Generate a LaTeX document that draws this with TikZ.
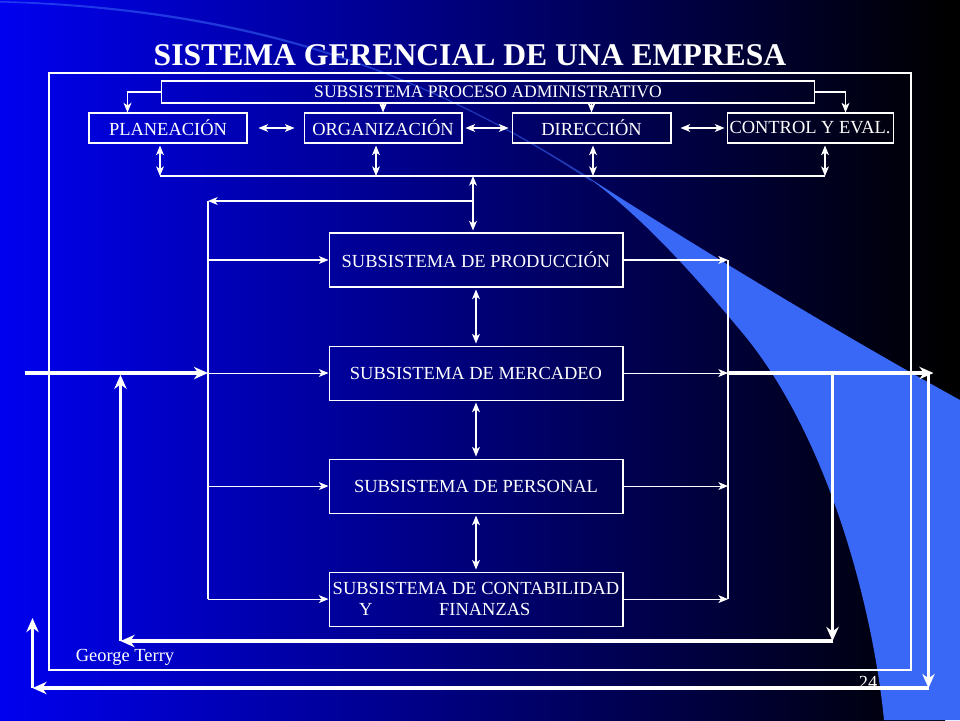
\documentclass[tikz,border=0pt]{standalone}
\usepackage{fontspec}
\setmainfont{Liberation Serif}
\usetikzlibrary{arrows.meta,positioning,calc}
\definecolor{SlideBlue}{RGB}{0,0,240}
\definecolor{SlideMid}{RGB}{0,0,178}
\definecolor{SlideSwoosh}{RGB}{58,104,246}

\begin{document}
\begin{tikzpicture}[x=0.02cm,y=-0.02cm,
  ln/.style={draw=white,line width=0.6pt},
  arr/.style={ln,-{Stealth[length=5.5pt,width=4.5pt,inset=1.5pt]}},
  darr/.style={ln,{Stealth[length=5.5pt,width=4.5pt,inset=1.5pt]}-{Stealth[length=5.5pt,width=4.5pt,inset=1.5pt]}},
  big/.style={draw=white,line width=2pt,-{Stealth[length=8pt,width=7pt,inset=2.5pt]}},
  box/.style={ln,text=white,inner sep=0pt,font=\fontsize{10.5}{12}\selectfont},
  topbox/.style={box,minimum height=0.6cm},
  subbox/.style={box,minimum width=5.88cm,minimum height=1.08cm},
  lbl/.style={text=white,inner sep=0pt,font=\fontsize{10.5}{12}\selectfont},
]
% slide background
\shade[left color=SlideBlue,middle color=SlideMid,right color=black] (0,0) rectangle (945,720);
\fill[black] (945,0) rectangle (960,720);
\fill[SlideSwoosh,opacity=0.55] (0,1) .. controls (250,7) and (420,70) .. (590,178)
  -- (592,182) .. controls (430,74) and (250,10) .. (0,2.5) -- cycle;
\fill[SlideSwoosh] (586,176) .. controls (720,262) and (860,345) .. (960,400) -- (960,720) -- (884,720)
  .. controls (872,600) and (825,430) .. (740,330)
  .. controls (690,270) and (640,215) .. (586,176) -- cycle;

\node[text=white,font=\fontsize{18}{21}\selectfont\bfseries] (title) at (470,55) {SISTEMA GERENCIAL DE UNA EMPRESA};
\draw[ln] (49,73) rectangle (911,670);

% proceso administrativo
\node[box,font=\fontsize{10}{12}\selectfont,minimum width=13.08cm,minimum height=0.44cm] (proc) at (488,92) {SUBSISTEMA PROCESO ADMINISTRATIVO};
\node[topbox,minimum width=3.16cm] (plan) at (168,128) {PLANEACIÓN};
\node[topbox,minimum width=3.16cm,right=1.12cm of plan] (org) {ORGANIZACIÓN};
\node[topbox,minimum width=3.18cm,right=0.98cm of org] (dir) {DIRECCIÓN};
\node[topbox,minimum width=3.32cm,right=1.1cm of dir] (ctrl) {CONTROL Y EVAL.};

% subsistemas
\node[subbox] (prod) at (476,260) {SUBSISTEMA DE PRODUCCIÓN};
\node[subbox,below=1.16cm of prod] (merc) {SUBSISTEMA DE MERCADEO};
\node[subbox,below=1.16cm of merc] (pers) {SUBSISTEMA DE PERSONAL};
\node[subbox,below=1.16cm of pers,align=left] (cont) {SUBSISTEMA DE CONTABILIDAD\\\hspace*{15pt}Y\hspace{38pt}FINANZAS};

\node[lbl] (author) at (125,657) {George Terry};
\node[lbl] (page) at (868,682) {24};

\draw[arr] (proc.west) -| ($(plan.north west)+(39,0)$);
\draw[arr] (proc.east) -| ($(ctrl.north west)+(119,0)$);
\draw[arr] (proc.south -| org.north) -- (org.north);
\draw[arr] (proc.south -| dir.north) -- (dir.north);

\draw[darr,shorten <=0.22cm,shorten >=0.18cm] (plan.east) -- (org.west);
\draw[darr,shorten <=0.06cm,shorten >=0.06cm] (org.east) -- (dir.west);
\draw[darr,shorten <=0.18cm,shorten >=0.04cm] (dir.east) -- (ctrl.west);

\coordinate (b1) at (160,176);
\coordinate (b2) at (376,176);
\coordinate (b3) at (593,176);
\coordinate (b4) at (825,176);
\coordinate (b0) at (473,176);
\draw[ln] (b1) -- (b4);
\foreach \b/\n in {b1/plan,b2/org,b3/dir,b4/ctrl}
  \draw[darr,shorten <=0.04cm] (\b |- \n.south) -- (\b);
\draw[darr,shorten >=0.04cm] (b0) -- (b0 |- prod.north);

% entradas por la izquierda
\coordinate (fb) at (473,201);
\coordinate (lft) at (208,201);
\draw[arr] (fb) -- (lft);
\draw[ln] (lft) -- (lft |- cont.west);
\foreach \n in {prod,merc,pers,cont}
  \draw[arr] (lft |- \n.west) -- (\n.west);

\draw[darr,shorten <=0.04cm,shorten >=0.04cm] (prod.south) -- (merc.north);
\draw[darr,shorten <=0.04cm,shorten >=0.04cm] (merc.south) -- (pers.north);
\draw[darr,shorten <=0.04cm,shorten >=0.04cm] (pers.south) -- (cont.north);

% salidas por la derecha
\coordinate (rgt) at (728,260);
\foreach \n in {prod,merc,pers,cont}
  \draw[arr] (\n.east) -- (\n.east -| rgt);
\draw[ln] (rgt |- prod.east) -- (rgt |- cont.east);

% entrada, salida y retroalimentacion
\coordinate (in) at ($(merc.west)+(-304,0)$);
\coordinate (out) at ($(merc.east)+(310,0)$);
\draw[big] (in) -- (in -| lft);
\draw[big] (merc.east -| rgt) -- (out);

\coordinate (l1) at ($(merc.east)+(209,0)$);
\coordinate (l1b) at ($(l1)+(0,268)$);
\coordinate (l1c) at ($(l1b)+(-712,0)$);
\draw[big] (l1) -- (l1b);
\draw[big] (l1b) -- (l1c);
\draw[big,shorten >=1pt] (l1c) -- (l1c |- in);

\coordinate (l2) at ($(merc.east)+(305,0)$);
\coordinate (l2b) at ($(l2)+(0,315)$);
\coordinate (l2c) at ($(l2b)+(-896,0)$);
\coordinate (l2d) at ($(l2c)+(0,-70)$);
\draw[big] (l2) -- (l2b);
\draw[big] (l2b) -- (l2c);
\draw[big] (l2c) -- (l2d);
\end{tikzpicture}
\end{document}
